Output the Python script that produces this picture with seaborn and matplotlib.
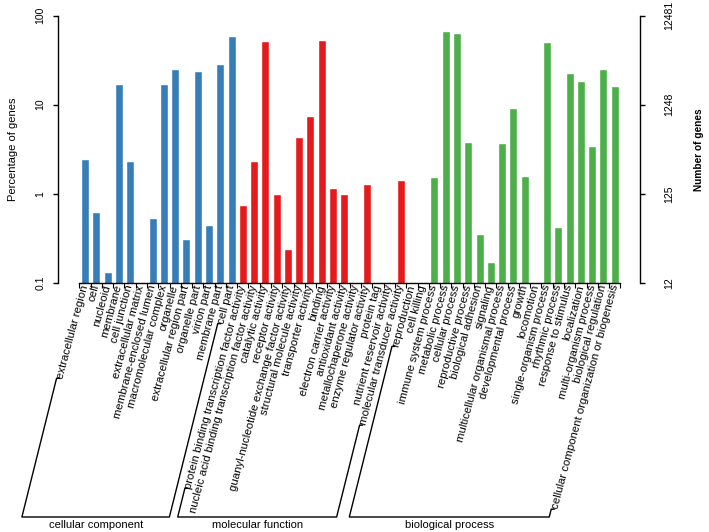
import numpy as np
import matplotlib
matplotlib.use("Agg")
import matplotlib.pyplot as plt
import seaborn as sns
import pandas as pd
from matplotlib.lines import Line2D
from matplotlib.transforms import IdentityTransform
from matplotlib.ticker import NullLocator

# GO level-2 terms, percentage of annotated genes (nan = no gene in that term)
cc_terms = ['extracellular region', 'cell', 'nucleoid', 'membrane', 'cell junction',
            'extracellular matrix', 'membrane-enclosed lumen', 'macromolecular complex',
            'organelle', 'extracellular region part', 'organelle part', 'virion part',
            'membrane part', 'cell part']
cc_pct = [2.45, 0.63, 0.134, 17.0, 2.31, np.nan, 0.53, 17.0, 24.9, 0.31, 23.6, 0.45, 28.5, 58.8]

mf_terms = ['protein binding transcription factor activity',
            'nucleic acid binding transcription factor activity', 'catalytic activity',
            'receptor activity', 'guanyl-nucleotide exchange factor activity',
            'structural molecule activity', 'transporter activity', 'binding',
            'electron carrier activity', 'antioxidant activity', 'metallochaperone activity',
            'enzyme regulator activity', 'protein tag', 'nutrient reservoir activity',
            'molecular transducer activity']
mf_pct = [0.74, 2.33, 52.0, 0.99, 0.24, 4.37, 7.4, 53.0, 1.17, 0.99, np.nan, 1.28,
          np.nan, np.nan, 1.43]

bp_terms = ['reproduction', 'cell killing', 'immune system process', 'metabolic process',
            'cellular process', 'reproductive process', 'biological adhesion', 'signaling',
            'multicellular organismal process', 'developmental process', 'growth',
            'locomotion', 'single-organism process', 'rhythmic process',
            'response to stimulus', 'localization', 'multi-organism process',
            'biological regulation', 'cellular component organization or biogenesis']
bp_pct = [np.nan, np.nan, 1.53, 67.4, 63.5, 3.84, 0.354, 0.173, 3.74, 9.2, 1.6, np.nan,
          50.3, 0.42, 22.8, 18.4, 3.46, 25.3, 16.2]

group_names = ['cellular component', 'molecular function', 'biological process']
group_colors = ['#377EB8', '#E41A1C', '#4DAF4A']
total_genes = 12481
pct_ticks = [0.1, 1, 10, 100]
pct_ticklabels = ['0.1', '1', '10', '100']
count_ticklabels = ['12', '125', '1248', '12481']

terms = cc_terms + mf_terms + bp_terms
df = pd.DataFrame({
    'term': terms,
    'pct': cc_pct + mf_pct + bp_pct,
    'group': [group_names[0]] * len(cc_terms) + [group_names[1]] * len(mf_terms)
             + [group_names[2]] * len(bp_terms),
})

sns.set_theme(style='ticks')
plt.rcParams['font.family'] = ['Liberation Sans', 'DejaVu Sans']
for k in ['text.color', 'axes.labelcolor', 'xtick.color', 'ytick.color', 'axes.edgecolor']:
    plt.rcParams[k] = 'black'

W, H = 709, 532
fig = plt.figure(figsize=(W / 100, H / 100), dpi=100)
ax = fig.add_axes([58 / W, 1 - 283 / H, (640 - 58) / W, (283 - 15.5) / H])

sns.barplot(data=df, x='term', y='pct', hue='group', order=terms, hue_order=group_names,
            palette=group_colors, dodge=False, width=0.71, saturation=1,
            errorbar=None, legend=False, ax=ax)

ax.set_yscale('log')
ax.set_ylim(0.1, 100)
ax.set_xlim(-2.4, 49.24)

# left axis: percentage
ax.set_yticks(pct_ticks, pct_ticklabels)
ax.yaxis.set_minor_locator(NullLocator())
ax.tick_params(axis='y', length=3.6, width=1, pad=5.5, labelsize=7.5)
for t in ax.get_yticklabels():
    t.set_rotation(90)
    t.set_va('center')
ax.set_ylabel('Percentage of genes', fontsize=8)
ax.yaxis.set_label_coords(-0.068, 0.5)

# x axis: one label per term, small ticks between bars
ax.set_xticks(range(len(terms)))
ax.set_xticklabels(terms, rotation=75, ha='right', va='center', rotation_mode='anchor',
                   fontsize=8.2)
ax.set_xticks(np.arange(-0.5, len(terms), 1), minor=True)
ax.tick_params(axis='x', which='major', length=0, pad=1.5)
ax.tick_params(axis='x', which='minor', length=3.6, width=0.8)
ax.set_xlabel('')

ax.spines['top'].set_visible(False)
ax.spines['right'].set_visible(False)
ax.spines['bottom'].set_bounds(-0.5, len(terms) - 0.5)
for sp in ax.spines.values():
    sp.set_linewidth(1)

# right axis: number of genes
ax2 = ax.twinx()
ax2.set_yscale('log')
ax2.set_ylim(0.1 * total_genes / 100, 100 * total_genes / 100)
ax2.set_yticks([p * total_genes / 100 for p in pct_ticks], count_ticklabels)
ax2.yaxis.set_minor_locator(NullLocator())
ax2.tick_params(axis='y', length=3.6, width=1, pad=14, labelsize=7.5)
for t in ax2.get_yticklabels():
    t.set_rotation(90)
    t.set_va('center')
for s in ['left', 'top', 'bottom']:
    ax2.spines[s].set_visible(False)
ax2.spines['right'].set_linewidth(1)
ax2.set_ylabel('Number of genes', fontsize=7.3, fontweight='bold')
ax2.yaxis.set_label_coords(1.0935, 0.5)

# brackets joining the first and last label of each ontology
fig.canvas.draw()
renderer = fig.canvas.get_renderer()
labels = ax.get_xticklabels()


def text_start(t):
    bb = t.get_window_extent(renderer)
    th = np.deg2rad(t.get_rotation())
    c, s = np.cos(th), np.sin(th)
    h = (-s * bb.width + c * bb.height) / (c * c - s * s)
    x0, y0 = bb.x0 + h * s, bb.y0
    return x0 - h * s / 2, y0 + h * c / 2


base_y = H - 517
slope = 0.25   # horizontal run of the bracket sides per pixel of rise
sizes = [len(cc_terms), len(mf_terms), len(bp_terms)]
start = 0
for name, n in zip(group_names, sizes):
    xs_l, ys_l = text_start(labels[start])
    xs_r, ys_r = text_start(labels[start + n - 1])
    ql, qr = xs_l - 3.5, xs_r - 3.5
    cl = ql - slope * (ys_l - base_y)
    cr = qr - slope * (ys_r - base_y)
    fig.add_artist(Line2D([xs_l - 0.5, ql, cl, cr, qr, xs_r - 0.5],
                          [ys_l, ys_l, base_y, base_y, ys_r, ys_r],
                          transform=IdentityTransform(), color='black', lw=1))
    fig.text((cl + cr) / 2 / W, 7 / H, name, ha='center', va='center', fontsize=8)
    start += n

fig.savefig('out.png', dpi=100)
